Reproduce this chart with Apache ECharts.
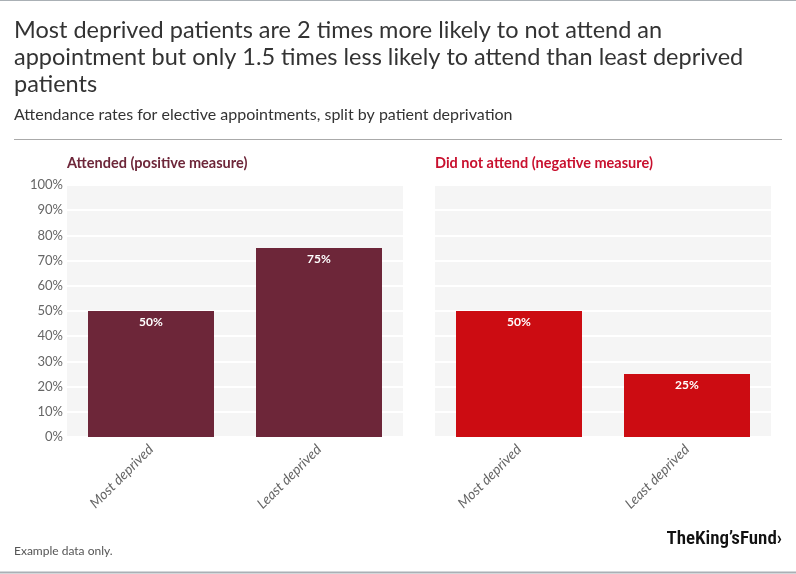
<!DOCTYPE html>
<html><head><meta charset="utf-8">
<script src="https://cdn.jsdelivr.net/npm/echarts@6/dist/echarts.min.js"></script>
<style>html,body{margin:0;padding:0;background:#fff}#c{width:796px;height:574px}</style>
</head><body><div id="c"></div>
<script>
const categories = ['Most deprived', 'Least deprived'];
const attended = [50, 75];
const didNotAttend = [50, 25];
const yTicks = [0, 10, 20, 30, 40, 50, 60, 70, 80, 90, 100];

const chart = echarts.init(document.getElementById('c'), null, {renderer: 'canvas'});
const FONT = '"Source Sans Pro","Lato","Noto Sans",sans-serif';

function yAxis(idx, showLabels) {
  return {
    type: 'value', gridIndex: idx, min: yTicks[0], max: yTicks[yTicks.length - 1], interval: 10,
    axisLine: {show: false}, axisTick: {show: false},
    axisLabel: {show: showLabels, formatter: v => v + '%', color: '#666', fontSize: 13, fontFamily: FONT, margin: 4},
    splitLine: {show: true, lineStyle: {color: '#fff', width: 2}},
    splitArea: {show: true, areaStyle: {color: ['#f5f5f5', '#f5f5f5']}}
  };
}
function xAxis(idx) {
  return {
    type: 'category', gridIndex: idx, data: categories,
    axisLine: {show: false}, axisTick: {show: false},
    axisLabel: {rotate: 45, color: '#666', fontStyle: 'italic', fontSize: 14, fontFamily: FONT, margin: 10}
  };
}
const labelCfg = {show: true, position: 'insideTop', distance: 5, color: '#fff', fontWeight: 'bold', fontSize: 12, fontFamily: FONT, formatter: p => p.value + '%'};

chart.setOption({
  animation: false,
  textStyle: {fontFamily: FONT},
  title: [
    {text: 'Most deprived patients are 2 times more likely to not attend an\nappointment but only 1.5 times less likely to attend than least deprived\npatients',
     left: 14, top: 17, padding: 0, textStyle: {fontSize: 23.5, fontWeight: 'normal', color: '#333', lineHeight: 27, fontFamily: FONT}},
    {text: 'Attendance rates for elective appointments, split by patient deprivation', left: 14, top: 107, padding: 0,
     textStyle: {fontSize: 16, fontWeight: 'normal', color: '#333', fontFamily: FONT}},
    {text: 'Attended (positive measure)', left: 67, top: 156, padding: 0, textStyle: {fontSize: 14.5, fontWeight: 'bold', color: '#6d2639', fontFamily: FONT}},
    {text: 'Did not attend (negative measure)', left: 435, top: 156, padding: 0, textStyle: {fontSize: 14.5, fontWeight: 'bold', color: '#c8102e', fontFamily: FONT}},
    {text: 'Example data only.', left: 14, top: 545, padding: 0, textStyle: {fontSize: 12, fontWeight: 'normal', color: '#555', fontFamily: FONT}}
  ],
  graphic: [
    {type: 'line', shape: {x1: 0, y1: 0.5, x2: 796, y2: 0.5}, style: {stroke: '#aab0b5', lineWidth: 1}},
    {type: 'line', shape: {x1: 14, y1: 139.5, x2: 782, y2: 139.5}, style: {stroke: '#aaaaaa', lineWidth: 1}},
    {type: 'line', shape: {x1: 0, y1: 572.5, x2: 796, y2: 572.5}, style: {stroke: '#aab0b5', lineWidth: 2}},
    {type: 'text', right: 14, top: 530, style: {text: 'TheKing\u2019sFund\u203A', font: '600 19px "Roboto Condensed","Liberation Sans Narrow","Roboto",sans-serif', fill: '#111', letterSpacing: -1.2}}
  ],
  grid: [
    {left: 67, right: 393, top: 185, bottom: 137},
    {left: 435, right: 25, top: 185, bottom: 137}
  ],
  xAxis: [xAxis(0), xAxis(1)],
  yAxis: [yAxis(0, true), yAxis(1, false)],
  series: [
    {type: 'bar', xAxisIndex: 0, yAxisIndex: 0, data: attended, barWidth: '75%', itemStyle: {color: '#6d2639'}, label: labelCfg},
    {type: 'bar', xAxisIndex: 1, yAxisIndex: 1, data: didNotAttend, barWidth: '75%', itemStyle: {color: '#cc0c12'}, label: labelCfg}
  ]
});
</script></body></html>
